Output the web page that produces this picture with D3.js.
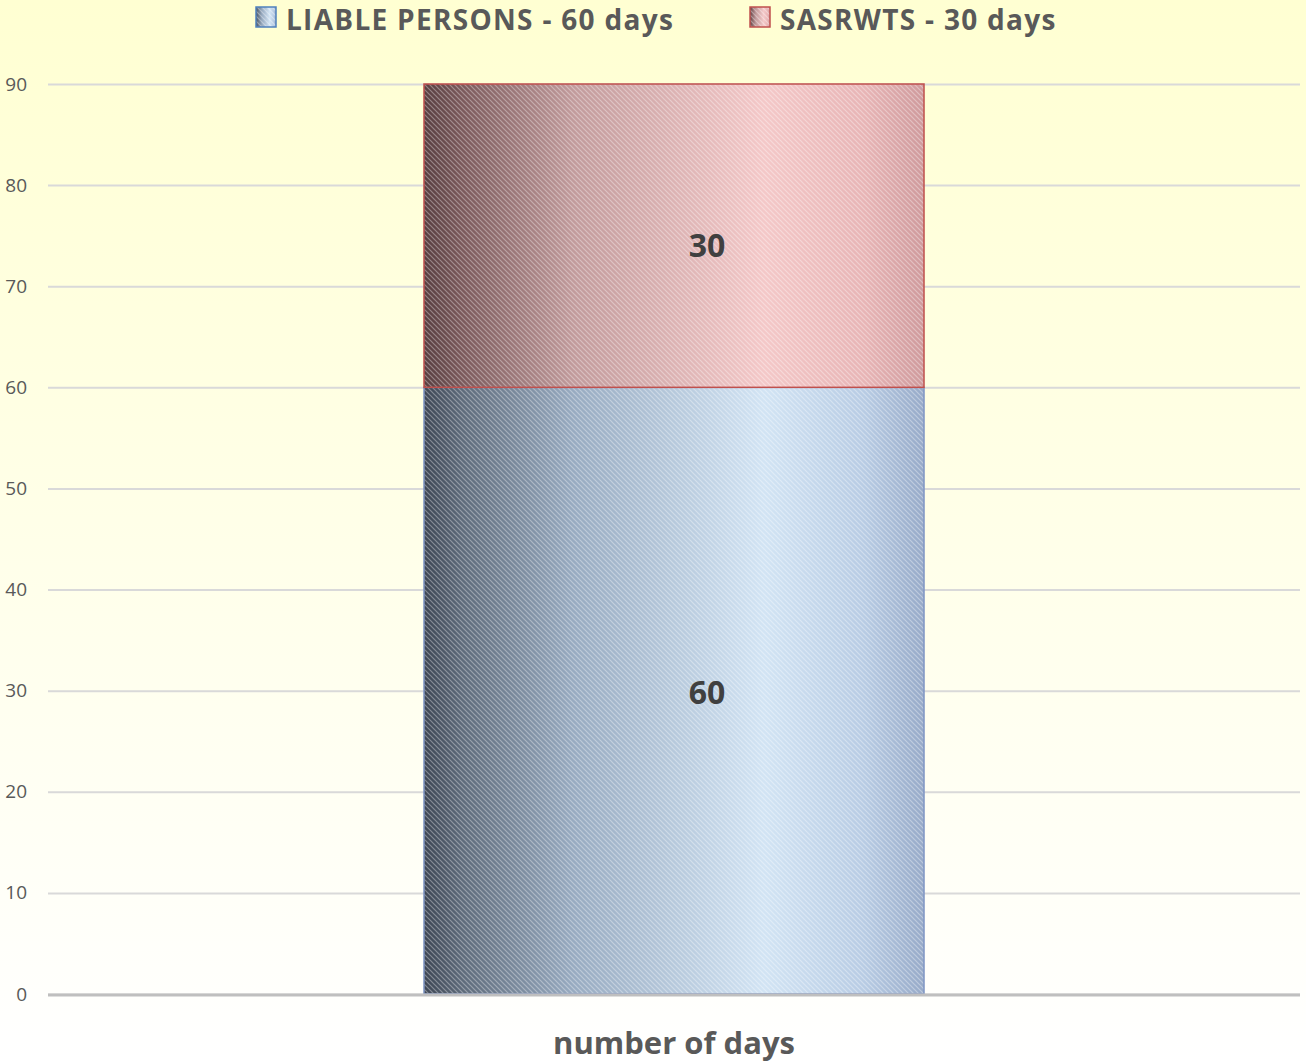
<!DOCTYPE html>
<html>
<head>
<meta charset="utf-8">
<script src="https://cdn.jsdelivr.net/npm/d3@7"></script>
<style>
  html, body { margin: 0; padding: 0; }
  body { width: 1306px; height: 1063px; overflow: hidden; }
  svg { display: block; font-family: "Open Sans", "Noto Sans", sans-serif; }
</style>
</head>
<body>
<div id="chart"></div>
<script>
const categories = ['number of days'];
const seriesNames = ['LIABLE PERSONS - 60 days', 'SASRWTS - 30 days'];
const liableValues = [60];
const sasrwtsValues = [30];
const yTicks = [0, 10, 20, 30, 40, 50, 60, 70, 80, 90];

const W = 1306, H = 1063;
const margin = { top: 84, right: 6, bottom: 67, left: 48 };

const svg = d3.select('#chart').append('svg')
  .attr('width', W)
  .attr('height', H);

const defs = svg.append('defs');

// page background: pale yellow fading to white
const bg = defs.append('linearGradient').attr('id', 'bg')
  .attr('x1', 0).attr('y1', 0).attr('x2', 0).attr('y2', 1);
bg.append('stop').attr('offset', '0%').attr('stop-color', '#ffffd2');
bg.append('stop').attr('offset', '100%').attr('stop-color', '#ffffff');

svg.append('rect').attr('width', W).attr('height', H).attr('fill', 'url(#bg)');

// horizontal shading for each bar, dark on the left
const shades = [
  { id: 'gBlue', stops: [['0%', '#3d4654'], ['8%', '#5f6c7c'], ['30%', '#98abc1'], ['68%', '#d2e4f4'], ['88%', '#b8cce4'], ['100%', '#97aac8']] },
  { id: 'gRed', stops: [['0%', '#583e40'], ['8%', '#7c5a5c'], ['30%', '#c29b9c'], ['68%', '#f4c8c8'], ['88%', '#e8b5b6'], ['100%', '#cf9a9c']] }
];
shades.forEach(s => {
  const g = defs.append('linearGradient').attr('id', s.id)
    .attr('x1', 0).attr('y1', 0).attr('x2', 1).attr('y2', 0);
  s.stops.forEach(([o, c]) => g.append('stop').attr('offset', o).attr('stop-color', c));
});

// fine diagonal hatch laid over the shading
const hatch = defs.append('pattern').attr('id', 'hatch')
  .attr('patternUnits', 'userSpaceOnUse')
  .attr('width', 5).attr('height', 5);
hatch.append('path')
  .attr('d', 'M-1,-1 L6,6 M-1,4 L1,6 M4,-1 L6,1')
  .attr('stroke', '#ffffff').attr('stroke-opacity', 0.35).attr('stroke-width', 1.2);

const width = W - margin.left - margin.right;
const height = H - margin.top - margin.bottom;

const x = d3.scaleBand()
  .domain(categories)
  .range([margin.left, margin.left + width])
  .paddingInner(0.4292)
  .paddingOuter(0.4292);

const y = d3.scaleLinear()
  .domain([0, 90])
  .range([margin.top + height - 2, margin.top]);

// gridlines and tick labels
const yAxis = svg.append('g')
  .attr('transform', `translate(${margin.left},0)`)
  .call(d3.axisLeft(y).tickValues(yTicks).tickSize(-width).tickPadding(21));
yAxis.select('.domain').remove();
yAxis.selectAll('.tick line').attr('stroke', '#d9d9d9').attr('stroke-width', 2);
yAxis.selectAll('.tick text')
  .attr('fill', '#595959')
  .style('font-size', '19px')
  .style('font-family', '"Open Sans", sans-serif');

// stacked bars
const stackData = categories.map((c, i) => ({ cat: c, liable: liableValues[i], sasrwts: sasrwtsValues[i] }));
const stack = d3.stack().keys(['liable', 'sasrwts'])(stackData);
const fills = ['url(#gBlue)', 'url(#gRed)'];
const borders = ['#7f95c4', '#c0504d'];
const labelShift = [13, 21];

stack.forEach((layer, li) => {
  const g = svg.append('g');
  layer.forEach(d => {
    const bx = x(d.data.cat), bw = x.bandwidth();
    const by = y(d[1]), bh = y(d[0]) - y(d[1]);
    g.append('rect')
      .attr('x', bx).attr('y', by).attr('width', bw).attr('height', bh)
      .attr('fill', fills[li]);
    g.append('rect')
      .attr('x', bx).attr('y', by).attr('width', bw).attr('height', bh)
      .attr('fill', 'url(#hatch)')
      .attr('stroke', borders[li]).attr('stroke-width', 1.5);
    g.append('text')
      .attr('x', bx + bw / 2 + 33)
      .attr('y', (by + by + bh) / 2 + labelShift[li])
      .attr('text-anchor', 'middle')
      .attr('fill', '#404040')
      .style('font-size', '32px')
      .style('font-weight', 'bold')
      .text(d[1] - d[0]);
  });
});

// baseline
svg.append('line')
  .attr('x1', margin.left).attr('x2', margin.left + width)
  .attr('y1', y(0) + 1).attr('y2', y(0) + 1)
  .attr('stroke', '#bfbfbf').attr('stroke-width', 3);

// category label
svg.append('g')
  .attr('transform', `translate(0,${y(0)})`)
  .call(d3.axisBottom(x).tickSize(0).tickPadding(38))
  .call(g => g.select('.domain').remove())
  .selectAll('text')
  .attr('fill', '#595959')
  .style('font-size', '31px')
  .style('font-weight', 'bold')
  .style('font-family', '"Open Sans", sans-serif');

// legend
const legendItems = [
  { name: seriesNames[0], fill: 'url(#gBlue)', stroke: '#4f81bd', x: 256 },
  { name: seriesNames[1], fill: 'url(#gRed)', stroke: '#c0504d', x: 750 }
];
const legend = svg.append('g');
legendItems.forEach(it => {
  legend.append('rect')
    .attr('x', it.x).attr('y', 7).attr('width', 20).attr('height', 20)
    .attr('fill', it.fill);
  legend.append('rect')
    .attr('x', it.x).attr('y', 7).attr('width', 20).attr('height', 20)
    .attr('fill', 'url(#hatch)').attr('stroke', it.stroke).attr('stroke-width', 1.5);
  legend.append('text')
    .attr('x', it.x + 30).attr('y', 30)
    .attr('fill', '#595959')
    .style('font-size', '28px')
    .style('font-weight', 'bold')
    .style('letter-spacing', '1.3px')
    .text(it.name);
});
</script>
</body>
</html>
